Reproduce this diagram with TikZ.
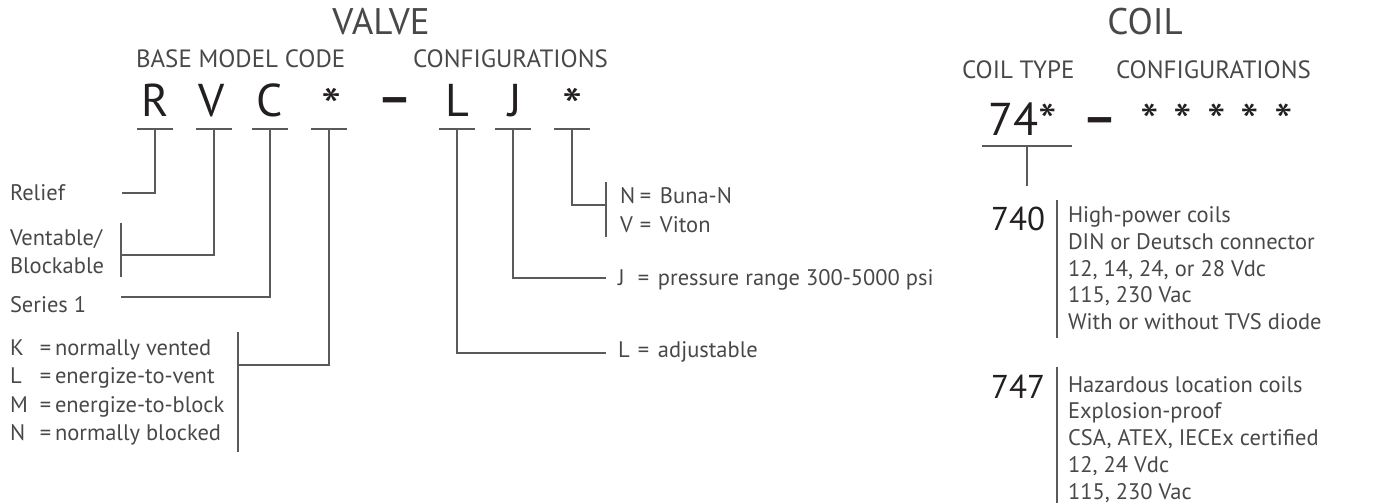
\documentclass[tikz,border=0pt]{standalone}
\usepackage{fontspec}
\setmainfont{PT Sans}
\usepackage{xcolor}
\definecolor{inkgray}{RGB}{72,72,74}
\definecolor{inkdark}{RGB}{35,31,32}
\definecolor{linegray}{RGB}{90,90,92}
\newcommand{\eqlab}[2]{\makebox[30pt][l]{#1}\makebox[15pt][l]{=}#2}
\newcommand{\eqlabr}[2]{\makebox[20pt][l]{#1}\makebox[20pt][l]{=}#2}
\newcommand{\vstar}{\raisebox{-7pt}{\scalebox{1.25}[1.1]{*}}}
\newcommand{\cstar}{\raisebox{-3pt}{\scalebox{1.15}[1.05]{*}}}
\newcommand{\codedash}{\raisebox{3pt}{\scalebox{1.15}[1]{\bfseries –}}}

\begin{document}
\begin{tikzpicture}[x=1pt,y=-1pt,
  every node/.style={inner sep=0pt,outer sep=0pt,text=inkgray},
  head/.style={anchor=base,font=\fontsize{37}{37}\selectfont},
  subhead/.style={anchor=base west,font=\fontsize{25}{25}\selectfont},
  code/.style={anchor=base,text=inkdark,font=\fontsize{46}{46}\selectfont},
  lab/.style={anchor=base west,font=\fontsize{22.5}{28}\selectfont},
  typ/.style={anchor=base east,text=inkdark,font=\fontsize{33}{33}\selectfont},
  tick/.style={line width=2.3pt,draw=linegray},
  lead/.style={line width=2.3pt,draw=linegray}]
  \useasboundingbox (0,0) rectangle (1374,503);

  % valve code
  \node[head](valve) at(381,35){VALVE};
  \node[subhead](base) at(136,68){BASE MODEL CODE};
  \node[subhead](vconf) at(413,68){CONFIGURATIONS};
  \node[code](cR) at(155,117){R};
  \node[code](cV) at(212,117){V};
  \node[code](cC) at(270,117){C};
  \node[code](cS) at(332,117){\vstar};
  \node[code](cD) at(395,117){\codedash};
  \node[code](cL) at(457,117){L};
  \node[code](cJ) at(515,117){J};
  \node[code](cA) at(573,117){\vstar};
  \foreach \n/\x in {R/155,V/214,C/270,S/329,L/457,J/513,A/572}{
    \coordinate (b\n) at (\x,129);
    \draw[tick] (\x-18,129) -- (\x+18,129);
  }

  % left labels
  \node[lab](relief) at(10,200){Relief};
  \node[lab](vent) at(10,245){Ventable/};
  \node[lab](block) at(10,273){Blockable};
  \node[lab](series) at(10,312){Series 1};
  \foreach \k/\t/\y [count=\i] in {K/normally vented/355,L/energize-to-vent/383,M/energize-to-block/412,N/normally blocked/440}
    \node[lab](mode\i) at(10,\y){\eqlab{\k}{\t}};

  \coordinate (eR) at (122,193);
  \coordinate (eV) at (121,255);
  \coordinate (eC) at (121,297);
  \coordinate (eS) at (238,365);
  \draw[lead] (bR) |- (eR);
  \draw[lead] (bV) |- (eV);
  \draw[lead] (121,223) -- (121,277);
  \draw[lead] (bC) |- (eC);
  \draw[lead] (bS) |- (eS);
  \draw[lead] (238,332) -- (238,452);

  % right labels
  \node[lab](buna) at(620,203){\eqlabr{N}{Buna-N}};
  \node[lab](viton) at(620,232){\eqlabr{V}{Viton}};
  \node[lab](press) at(618,285){\eqlabr{J}{pressure range 300-5000 psi}};
  \node[lab](adj) at(618,357){\eqlabr{L}{adjustable}};
  \coordinate (eA) at (606,205);
  \coordinate (eJ) at (606,278);
  \coordinate (eL) at (606,353);
  \draw[lead] (bA) |- (eA);
  \draw[lead] (606,182) -- (606,237);
  \draw[lead] (bJ) |- (eJ);
  \draw[lead] (bL) |- (eL);

  % coil code
  \node[head](coil) at(1145,35){COIL};
  \node[subhead](ctype) at(962,78){COIL TYPE};
  \node[subhead](cconf) at(1116,78){CONFIGURATIONS};
  \node[code,anchor=base west](c74) at(988,135){74\cstar};
  \node[code](cdash) at(1100,136){\codedash};
  \node[code,anchor=base west](cstars) at(1140,135){\cstar\hspace{15pt}\cstar\hspace{15pt}\cstar\hspace{15pt}\cstar\hspace{15pt}\cstar};
  \coordinate (b74) at (1027,146);
  \coordinate (e74) at (1027,186);
  \draw[tick] (982,146) -- (1072,146);
  \draw[lead] (b74) -- (e74);

  \node[typ](t740) at(1045,230){740};
  \draw[lead] (1057,200) -- (1057,338);
  \foreach \t [count=\i] in {High-power coils,DIN or Deutsch connector,{12, 14, 24, or 28 Vdc},{115, 230 Vac},With or without TVS diode}
    \node[lab](hp\i) at(1068,196+26.7*\i){\t};

  \node[typ](t747) at(1045,398){747};
  \draw[lead] (1057,367) -- (1057,503);
  \foreach \t [count=\i] in {Hazardous location coils,Explosion-proof,{CSA, ATEX, IECEx certified},{12, 24 Vdc},{115, 230 Vac}}
    \node[lab](hz\i) at(1068,365.5+26.7*\i){\t};
\end{tikzpicture}
\end{document}
